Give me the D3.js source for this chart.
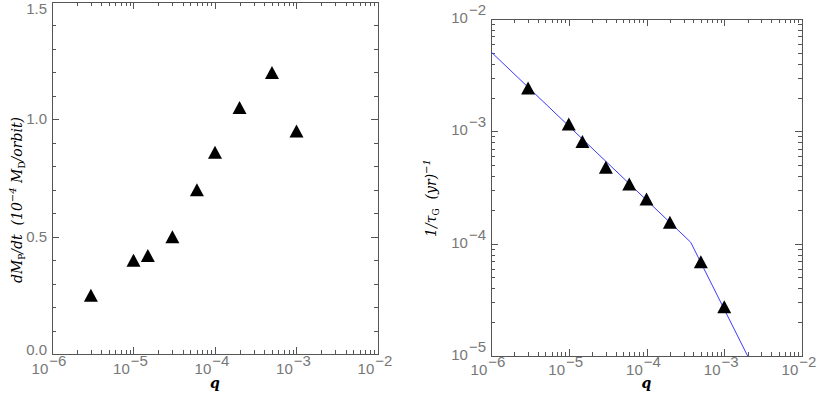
<!DOCTYPE html>
<html>
<head>
<meta charset="utf-8">
<script src="https://cdn.jsdelivr.net/npm/d3@7"></script>
<style>
body { margin: 0; background: #fff; }
svg { display: block; }
.tl { font-family: "Liberation Sans", Arial, sans-serif; font-size: 15px; fill: #777; }
.ttl { font-family: "DejaVu Serif", "Liberation Serif", serif; font-style: italic; font-size: 14px; fill: #000; }
</style>
</head>
<body>
<script>
// mass ratio of the runs
var qVals = [3e-6, 1e-5, 1.5e-5, 3e-5, 6e-5, 1e-4, 2e-4, 5e-4, 1e-3];
// left: accretion rate (1e-4 M_D / orbit)
var accretion = [0.25, 0.40, 0.42, 0.50, 0.70, 0.86, 1.05, 1.20, 0.95];
// right: growth rate 1/tau_G (1/yr)
var growthRate = [2.43e-3, 1.16e-3, 8.1e-4, 4.8e-4, 3.4e-4, 2.5e-4, 1.55e-4, 6.9e-5, 2.75e-5];
// blue fit line
var fitQ = [1e-6, 3.7e-4, 2.0e-3];
var fitRate = [5.1e-3, 1.03e-4, 1.0e-5];
// tick labels
var qExp = [-6, -5, -4, -3, -2];
var accTicks = [0, 0.5, 1.0, 1.5];
var rateExp = [-5, -4, -3, -2];

var W = 818, H = 397;
var svg = d3.select("body").append("svg").attr("width", W).attr("height", H);
var axisCol = "#555";
var sp = "\u00a0\u00a0";

function logMinors(lo, hi) {
    var out = [];
    for (var e = lo; e < hi; e++) {
        for (var m = 2; m <= 9; m++) out.push(m * Math.pow(10, e));
    }
    return out;
}

function triangle(sel) {
    sel.attr("d", "M0,-6.5L7,6.5L-7,6.5Z").attr("fill", "#000");
}

function drawFrame(g, w, h) {
    g.append("rect").attr("x", 0).attr("y", 0).attr("width", w).attr("height", h)
        .attr("fill", "none").attr("stroke", axisCol).attr("shape-rendering", "crispEdges");
}

function ticks(g, scale, vals, len, orient, w, h) {
    // ticks drawn inward on both opposite sides
    vals.forEach(function(v) {
        var p = Math.round(scale(v)) + 0.5;
        if (orient == "x") {
            g.append("line").attr("x1", p).attr("x2", p).attr("y1", h).attr("y2", h - len);
            g.append("line").attr("x1", p).attr("x2", p).attr("y1", 0).attr("y2", len);
        } else {
            g.append("line").attr("y1", p).attr("y2", p).attr("x1", 0).attr("x2", len);
            g.append("line").attr("y1", p).attr("y2", p).attr("x1", w).attr("x2", w - len);
        }
    });
    g.selectAll("line").attr("stroke", axisCol).attr("shape-rendering", "crispEdges");
}

function powLabel(g, x, y, e, anchor) {
    var t = g.append("text").attr("class", "tl").attr("x", x).attr("y", y).attr("text-anchor", anchor);
    t.append("tspan").text("10");
    t.append("tspan").attr("dy", -8).attr("dx", 1).text("\u2212" + Math.abs(e));
}

// ---------- left panel ----------
var L = {x: 52, y: 2, w: 326, h: 352};
var gl = svg.append("g").attr("transform", "translate(" + L.x + "," + L.y + ")");
var xl = d3.scaleLog().domain([1e-6, 1e-2]).range([0, L.w]);
var yl = d3.scaleLinear().domain([0, 1.5]).range([L.h, 0]);

var tg = gl.append("g");
ticks(tg, xl, qExp.map(function(e){ return Math.pow(10, e); }), 7, "x", L.w, L.h);
var tg2 = gl.append("g");
ticks(tg2, xl, logMinors(-6, -2), 4, "x", L.w, L.h);
var tg3 = gl.append("g");
ticks(tg3, yl, accTicks, 7, "y", L.w, L.h);
var tg4 = gl.append("g");
ticks(tg4, yl, d3.range(1, 15).filter(function(i){ return i % 5 != 0; }).map(function(i){ return i / 10; }), 4, "y", L.w, L.h);
drawFrame(gl, L.w, L.h);

accTicks.forEach(function(v) {
    var yy = Math.min(Math.max(yl(v) + 5, 12), L.h + 1);
    gl.append("text").attr("class", "tl").attr("x", -5).attr("y", yy)
        .attr("text-anchor", "end").text(d3.format(".1f")(v));
});
qExp.forEach(function(e) {
    powLabel(gl, xl(Math.pow(10, e)) - 3, L.h + 20, e, "middle");
});

gl.selectAll(".pt").data(qVals).enter().append("path").attr("class", "pt")
    .attr("transform", function(d, i) { return "translate(" + xl(d) + "," + yl(accretion[i]) + ")"; })
    .call(triangle);

gl.append("text").attr("class", "ttl").attr("x", L.w / 2).attr("y", L.h + 34)
    .attr("text-anchor", "middle").style("font-weight", "bold").text("q");

var ytl = svg.append("text").attr("class", "ttl").attr("text-anchor", "middle")
    .attr("transform", "translate(22,200) rotate(-90)");
ytl.append("tspan").text("dM");
ytl.append("tspan").attr("dy", 3).style("font-size", "9px").style("font-style", "normal").text("P");
ytl.append("tspan").attr("dy", -3).text("/dt" + sp + "(10");
ytl.append("tspan").attr("dy", -6).style("font-size", "10px").text("\u22124");
ytl.append("tspan").attr("dy", 6).text(" M");
ytl.append("tspan").attr("dy", 3).style("font-size", "9px").style("font-style", "normal").text("D");
ytl.append("tspan").attr("dy", -3).text("/orbit)");

// ---------- right panel ----------
var R = {x: 491, y: 19, w: 311, h: 337};
var gr = svg.append("g").attr("transform", "translate(" + R.x + "," + R.y + ")");
var xr = d3.scaleLog().domain([1e-6, 1e-2]).range([0, R.w]);
var yr = d3.scaleLog().domain([1e-5, 1e-2]).range([R.h, 0]);

var rg = gr.append("g");
ticks(rg, xr, qExp.map(function(e){ return Math.pow(10, e); }), 7, "x", R.w, R.h);
var rg2 = gr.append("g");
ticks(rg2, xr, logMinors(-6, -2), 4, "x", R.w, R.h);
var rg3 = gr.append("g");
ticks(rg3, yr, rateExp.map(function(e){ return Math.pow(10, e); }), 7, "y", R.w, R.h);
var rg4 = gr.append("g");
ticks(rg4, yr, logMinors(-5, -2), 4, "y", R.w, R.h);
drawFrame(gr, R.w, R.h);

rateExp.forEach(function(e) {
    powLabel(gr, -5, yr(Math.pow(10, e)) + 4, e, "end");
});
qExp.forEach(function(e) {
    powLabel(gr, xr(Math.pow(10, e)) - 3, R.h + 19, e, "middle");
});

gr.append("clipPath").attr("id", "clipR").append("rect").attr("width", R.w).attr("height", R.h);
var line = d3.line().x(function(d) { return xr(d[0]); }).y(function(d) { return yr(d[1]); });
gr.append("path").datum(d3.zip(fitQ, fitRate)).attr("d", line)
    .attr("fill", "none").attr("stroke", "#3b3bff").attr("stroke-width", 1)
    .attr("clip-path", "url(#clipR)");

gr.selectAll(".pt").data(qVals).enter().append("path").attr("class", "pt")
    .attr("transform", function(d, i) { return "translate(" + xr(d) + "," + yr(growthRate[i]) + ")"; })
    .call(triangle);

gr.append("text").attr("class", "ttl").attr("x", R.w / 2).attr("y", R.h + 32)
    .attr("text-anchor", "middle").style("font-weight", "bold").text("q");

var ytr = svg.append("text").attr("class", "ttl").attr("text-anchor", "middle")
    .attr("transform", "translate(436,198) rotate(-90)");
ytr.append("tspan").text("1/\u03c4");
ytr.append("tspan").attr("dy", 3).style("font-size", "9px").style("font-style", "normal").text("G");
ytr.append("tspan").attr("dy", -3).text(sp + "(yr)");
ytr.append("tspan").attr("dy", -6).style("font-size", "10px").text("\u22121");
</script>
</body>
</html>
